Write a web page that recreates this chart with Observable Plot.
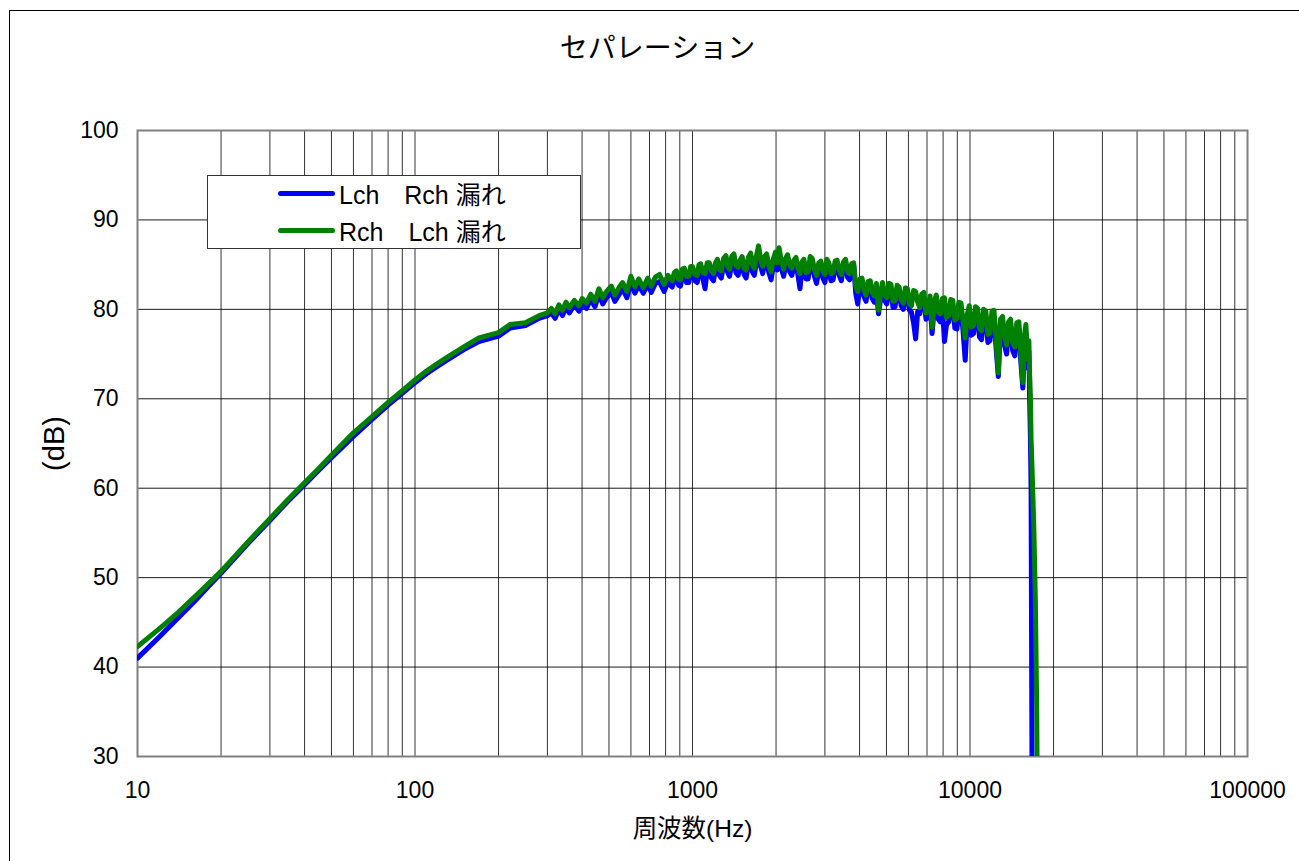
<!DOCTYPE html>
<html>
<head>
<meta charset="utf-8">
<script src="https://cdn.jsdelivr.net/npm/d3@7"></script>
<script src="https://cdn.jsdelivr.net/npm/@observablehq/plot@0.6"></script>
<style>
  html, body { margin: 0; padding: 0; background: #fff; overflow: hidden; }
  #wrap { position: relative; width: 1299px; height: 861px; overflow: hidden; background: #fff;
          font-family: "Liberation Sans", Arial, "Noto Sans CJK JP", sans-serif; color: #000; }
  #outer { position: absolute; left: 9px; top: 10px; width: 1400px; height: 1000px;
           border-left: 1.5px solid #000; border-top: 1.5px solid #000; box-sizing: border-box; }
  #title { position: relative; height: 90px; display: flex; justify-content: center; align-items: flex-start; }
  #title span { margin-top: 32px; margin-left: 16px; font-family: "Noto Sans CJK JP", sans-serif; font-size: 28px; line-height: 1; }
  #legend { position: absolute; left: 207px; top: 175px; width: 374px; height: 74px; box-sizing: border-box;
            border: 1px solid #333; background: #fff; }
  .row { position: absolute; left: 70px; height: 30px; display: flex; align-items: center; white-space: pre; font-size: 25px; }
  .swatch { width: 57px; height: 5px; border-radius: 3px; margin-right: 4px; }
</style>
</head>
<body>
<div id="wrap">
  <div id="outer"></div>
  <div id="title"><span>セパレーション</span></div>
  <div id="chart"></div>
  <div id="legend"></div>
</div>
<script>
// ---- data ----
const freqHz = [
  10, 12, 14, 16, 18, 20, 25, 30, 35, 40, 45, 50, 60, 70, 80, 90, 100, 110, 120, 130, 150, 170, 200, 220, 250, 280, 300,
  310, 320, 330, 340, 350, 360, 375, 390, 400, 415,
  430, 445, 460, 475, 490, 510, 525, 545, 560, 580,
  600, 620, 640, 665, 690, 710, 735, 760, 790, 815,
  845, 860, 875, 890, 905, 920, 935, 952, 970, 985, 1000, 1020, 1040, 1055, 1070, 1090, 1110, 1130, 1150, 1170,
  1190, 1210, 1230, 1250, 1270, 1295, 1320, 1340, 1360, 1385, 1410, 1435, 1460, 1485, 1510, 1535, 1560, 1590, 1620, 1645,
  1670, 1700, 1730, 1760, 1790, 1820, 1850, 1885, 1920, 1955, 1990, 2020, 2050, 2090, 2130, 2165, 2200, 2240, 2280, 2320,
  2360, 2400, 2440, 2480, 2520, 2565, 2610, 2655, 2700, 2750, 2800, 2850, 2900, 2950, 3000, 3050, 3100, 3155, 3210, 3265,
  3320, 3380, 3440, 3500, 3560, 3620, 3680, 3745, 3810, 3875, 3940, 4010, 4080, 4150, 4220, 4295, 4370, 4445, 4520, 4600,
  4680, 4760, 4840, 4925, 5010, 5100, 5190, 5280, 5370, 5460, 5550, 5650, 5750, 5850, 5950, 6050, 6150, 6260, 6370, 6480,
  6590, 6700, 6820, 6940, 7060, 7180, 7300, 7430, 7560, 7690, 7820, 7950, 8090, 8230, 8380, 8520, 8670, 8820, 8970, 9120,
  9280, 9440, 9610, 9770, 9940, 10100, 10300, 10470, 10650, 10820, 11000, 11200, 11400, 11600, 11800, 12000, 12200, 12420, 12650, 12870,
  13100, 13320, 13550, 13770, 14000, 14250, 14500, 14750, 15000, 15250, 15500, 15700, 15900, 16050, 16200, 16300, 16400, 16500, 16600, 16700,
  16800, 17000, 17200, 17400, 17600
];
// Lch (Rch leak) — blue
const lchLeak = [
  41.0, 43.4, 45.5, 47.3, 49.0, 50.5, 53.8, 56.4, 58.6, 60.4, 62.0, 63.4, 65.8, 67.7, 69.3, 70.6, 71.8, 72.8, 73.6, 74.3, 75.5, 76.4, 77.0, 77.9, 78.2, 79.0, 79.3,
  79.6, 79.0, 80.0, 79.3, 80.2, 79.6, 80.5, 79.8, 80.6, 80.1,
  81.1, 80.3, 81.7, 80.6, 81.3, 81.9, 80.9, 81.7, 82.3, 81.3,
  83.0, 81.8, 82.7, 81.8, 82.8, 81.9, 82.9, 83.1, 82.0, 83.0,
  82.5, 83.4, 83.6, 82.7, 82.6, 83.8, 83.9, 83.0, 83.0, 84.1, 84.1, 83.2, 83.0, 84.2, 84.3, 83.4, 82.3, 84.4, 84.4, 83.5,
  83.2, 84.5, 84.9, 83.8, 83.5, 85.0, 85.2, 84.1, 83.7, 85.1, 85.4, 84.1, 83.8, 84.8, 85.1, 83.9, 83.5, 85.0, 85.5, 84.2,
  83.8, 85.2, 86.3, 84.8, 84.0, 85.1, 85.4, 84.1, 83.3, 84.8, 85.6, 84.4, 86.0, 84.6, 83.7, 84.9, 85.3, 84.2, 83.8, 84.7,
  85.0, 83.8, 82.3, 84.6, 84.8, 83.4, 83.4, 85.1, 84.9, 83.7, 82.9, 84.4, 84.6, 83.5, 83.0, 84.8, 84.4, 83.2, 83.3, 84.6,
  85.2, 83.8, 83.2, 84.8, 85.3, 83.6, 83.3, 84.6, 84.9, 81.8, 80.6, 82.6, 82.8, 81.4, 80.9, 82.4, 82.5, 81.2, 80.8, 82.2,
  79.5, 81.1, 82.3, 81.0, 80.6, 82.2, 82.1, 80.2, 80.3, 81.9, 81.8, 80.4, 80.0, 81.7, 81.6, 79.9, 79.7, 78.5, 76.7, 79.8,
  79.5, 81.0, 81.2, 78.9, 79.1, 80.6, 77.3, 80.1, 80.9, 78.9, 78.6, 80.4, 76.4, 78.3, 78.6, 80.3, 80.3, 77.9, 77.8, 80.0,
  80.0, 77.6, 74.3, 78.7, 79.7, 77.1, 77.3, 79.6, 79.4, 76.9, 76.6, 79.2, 79.1, 76.3, 76.5, 79.0, 79.2, 75.6, 72.5, 78.0,
  78.5, 76.0, 75.0, 77.8, 78.2, 75.4, 74.8, 77.7, 77.9, 74.1, 71.2, 76.1, 77.5, 74.5, 73.4, 75.3, 70.0, 66.0, 60.0, 35.0,
  10, 10, 10, 10, 10
];
// Rch (Lch leak) — green
const rchLeak = [
  42.3, 44.3, 46.1, 47.8, 49.3, 50.7, 54.0, 56.6, 58.8, 60.6, 62.2, 63.7, 66.2, 68.0, 69.6, 70.9, 72.1, 73.1, 73.9, 74.6, 75.8, 76.8, 77.4, 78.3, 78.5, 79.3, 79.6,
  80.1, 79.5, 80.5, 79.9, 80.8, 80.2, 81.0, 80.4, 81.2, 80.7,
  81.7, 80.9, 82.3, 81.3, 82.0, 82.6, 81.6, 82.5, 83.0, 82.0,
  83.7, 82.5, 83.4, 82.4, 83.5, 82.6, 83.6, 83.9, 82.8, 83.8,
  83.2, 84.1, 84.3, 83.4, 83.3, 84.5, 84.6, 83.7, 83.7, 84.8, 84.8, 83.9, 83.8, 85.0, 85.1, 84.1, 84.0, 85.2, 85.2, 84.3,
  84.0, 85.2, 85.6, 84.5, 84.3, 85.7, 86.0, 84.8, 84.5, 85.9, 86.2, 84.9, 84.7, 85.5, 85.9, 84.6, 84.4, 85.8, 86.3, 85.0,
  84.6, 86.0, 87.1, 85.6, 84.8, 85.9, 86.2, 84.9, 84.2, 85.6, 86.4, 85.2, 86.9, 85.4, 84.5, 85.7, 86.1, 85.0, 84.6, 85.5,
  85.8, 84.6, 84.0, 85.3, 85.6, 84.1, 84.2, 85.9, 85.7, 84.5, 83.8, 85.2, 85.4, 84.3, 83.9, 85.6, 85.2, 84.0, 84.1, 85.4,
  85.5, 84.4, 83.9, 85.3, 85.6, 84.2, 84.0, 85.1, 85.2, 82.6, 82.0, 83.4, 83.5, 82.2, 81.6, 83.1, 83.2, 81.9, 81.5, 82.9,
  79.9, 81.8, 83.0, 81.7, 81.3, 82.9, 82.8, 80.9, 81.0, 82.7, 82.5, 81.1, 80.7, 82.4, 82.3, 80.6, 80.4, 82.1, 82.0, 80.8,
  80.2, 81.7, 81.9, 79.6, 79.8, 81.5, 78.0, 80.8, 81.6, 79.7, 79.5, 81.2, 81.3, 79.1, 79.3, 81.1, 81.0, 78.8, 79.0, 80.8,
  80.7, 78.6, 76.8, 79.4, 80.4, 78.0, 78.2, 80.3, 80.1, 77.9, 77.6, 80.0, 79.8, 77.2, 77.4, 79.8, 79.9, 76.5, 72.9, 78.9,
  79.2, 77.0, 76.0, 78.6, 78.9, 76.3, 75.8, 78.5, 78.6, 75.0, 71.8, 77.0, 78.3, 75.6, 74.4, 76.5, 72.8, 70.5, 65.5, 63.0,
  60.5, 55.0, 47.5, 35.0, 10
];
const seriesNames = ["Lch\u3000Rch 漏れ", "Rch\u3000Lch 漏れ"];
const seriesColors = ["#0000ff", "#008000"];
const xTickValues = [10, 100, 1000, 10000, 100000];
const xGridValues = [20, 30, 40, 50, 60, 70, 80, 90, 100,
  200, 300, 400, 500, 600, 700, 800, 900, 1000,
  2000, 3000, 4000, 5000, 6000, 7000, 8000, 9000, 10000,
  20000, 30000, 40000, 50000, 60000, 70000, 80000, 90000];
const yTickValues = [30, 40, 50, 60, 70, 80, 90, 100];

const lchRows = freqHz.map((f, i) => ({f, v: lchLeak[i]}));
const rchRows = freqHz.map((f, i) => ({f, v: rchLeak[i]}));

const chart = Plot.plot({
  width: 1299,
  height: 771,
  marginLeft: 137,
  marginRight: 52,
  marginTop: 40,
  marginBottom: 105,
  style: {fontFamily: "'Liberation Sans', Arial, 'Noto Sans CJK JP', sans-serif", fontSize: "23px", color: "#000", background: "transparent", overflow: "visible"},
  x: {type: "log", domain: [10, 100000]},
  y: {domain: [30, 100]},
  marks: [
    Plot.gridX(xGridValues, {stroke: "#000", strokeOpacity: 0.8, strokeWidth: 1}),
    Plot.gridY(yTickValues, {stroke: "#000", strokeOpacity: 0.9, strokeWidth: 1}),
    Plot.frame({stroke: "#808080", strokeWidth: 2}),
    Plot.axisX(xTickValues, {tickSize: 0, tickPadding: 25, tickFormat: d => String(d),
      label: "周波数(Hz)", labelAnchor: "center", labelOffset: 80, labelArrow: "none"}),
    Plot.axisY(yTickValues, {tickSize: 0, tickPadding: 19, tickFormat: d => String(d),
      label: "(dB)", labelAnchor: "center", labelOffset: 94, labelArrow: "none"}),
    Plot.line(lchRows, {x: "f", y: "v", stroke: seriesColors[0], strokeWidth: 5, strokeLinejoin: "round", strokeLinecap: "round", clip: true}),
    Plot.line(rchRows, {x: "f", y: "v", stroke: seriesColors[1], strokeWidth: 5, strokeLinejoin: "round", strokeLinecap: "round", clip: true})
  ]
});
const yLab = chart.querySelector('[aria-label="y-axis label"]');
if (yLab) yLab.setAttribute("font-size", "29");
const xLab = chart.querySelector('[aria-label="x-axis label"]');
if (xLab) xLab.setAttribute("font-size", "24.5");
document.getElementById("chart").appendChild(chart);

const legend = document.getElementById("legend");
seriesNames.forEach((name, i) => {
  const row = document.createElement("div");
  row.className = "row";
  row.style.top = (i === 0 ? 2 : 39) + "px";
  const sw = document.createElement("div");
  sw.className = "swatch";
  sw.style.background = seriesColors[i];
  row.appendChild(sw);
  const t = document.createElement("span");
  t.textContent = name;
  row.appendChild(t);
  legend.appendChild(row);
});
</script>
</body>
</html>
